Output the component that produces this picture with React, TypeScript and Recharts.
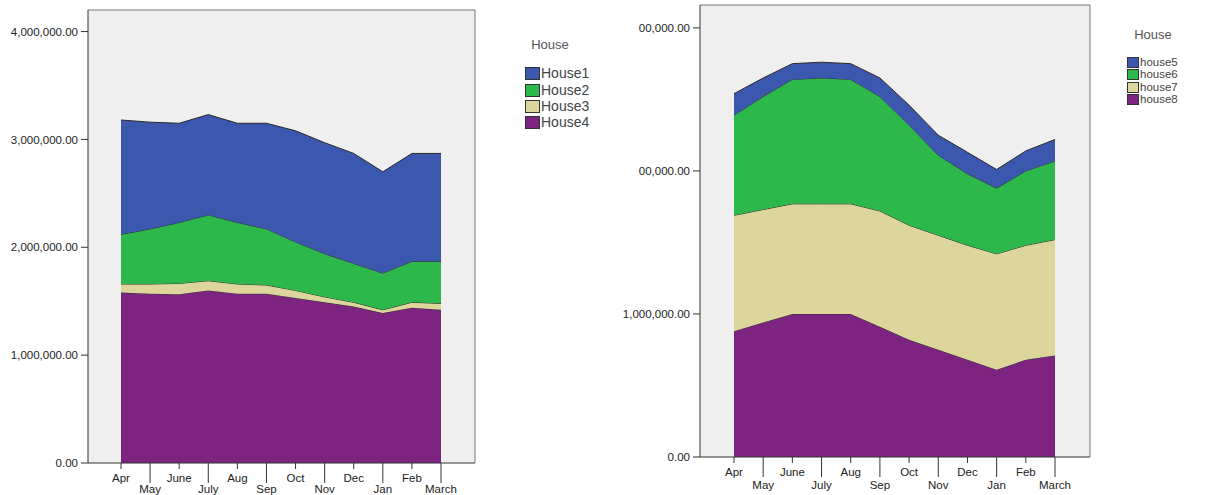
import React from 'react';
import { AreaChart, Area, XAxis, YAxis, CartesianGrid, Legend } from 'recharts';

const months = ['Apr', 'May', 'June', 'July', 'Aug', 'Sep', 'Oct', 'Nov', 'Dec', 'Jan', 'Feb', 'March'];

// Left chart (values)
const house1 = [1060000, 990000, 920000, 930000, 920000, 980000, 1030000, 1030000, 1020000, 940000, 1000000, 1000000];
const house2 = [460000, 510000, 565000, 610000, 570000, 520000, 450000, 400000, 360000, 340000, 380000, 390000];
const house3 = [80000, 90000, 100000, 90000, 90000, 80000, 70000, 50000, 40000, 30000, 50000, 60000];
const house4 = [1580000, 1570000, 1565000, 1600000, 1570000, 1570000, 1530000, 1490000, 1450000, 1390000, 1440000, 1420000];

// Right chart (values)
const house5 = [150000, 130000, 110000, 110000, 110000, 130000, 140000, 140000, 150000, 130000, 140000, 150000];
const house6 = [700000, 790000, 870000, 880000, 870000, 800000, 700000, 560000, 500000, 460000, 520000, 550000];
const house7 = [810000, 790000, 770000, 770000, 770000, 810000, 800000, 800000, 800000, 810000, 800000, 810000];
const house8 = [880000, 940000, 1000000, 1000000, 1000000, 910000, 820000, 750000, 680000, 610000, 680000, 710000];

const leftTicks = [0, 1000000, 2000000, 3000000, 4000000];
const leftTickLabels = ['0.00', '1,000,000.00', '2,000,000.00', '3,000,000.00', '4,000,000.00'];
const rightTicks = [0, 1000000, 2000000, 3000000];
const rightTickLabels = ['0.00', '1,000,000.00', '00,000.00', '00,000.00'];

const leftNames = ['House1', 'House2', 'House3', 'House4'];
const rightNames = ['house5', 'house6', 'house7', 'house8'];
const colors = ['#3b57ae', '#2db84b', '#dcd69c', '#7c2480'];

const leftData = months.map((m, i) => ({
  month: m,
  House1: house1[i],
  House2: house2[i],
  House3: house3[i],
  House4: house4[i],
}));

const rightData = months.map((m, i) => ({
  month: m,
  house5: house5[i],
  house6: house6[i],
  house7: house7[i],
  house8: house8[i],
}));

const FONT = '"Liberation Sans", Arial, sans-serif';

const makeXTick = (lowText: number) => (props: any) => {
  const { x, y, payload } = props;
  const i = payload.index;
  const low = i % 2 === 1;
  return (
    <g>
      <line x1={x} x2={x} y1={y} y2={y + (low ? 20 : 6)} stroke="#333" strokeWidth={1} />
      <text x={x} y={y + (low ? lowText : 19)} textAnchor="middle" fontSize={11.5} fill="#222" fontFamily={FONT}>
        {payload.value}
      </text>
    </g>
  );
};

const LeftXTick = makeXTick(30);
const RightXTick = makeXTick(32);

const makeLegend = (names: string[], opts: any) => () => (
  <div style={{ position: 'relative', width: 110, height: 120, fontFamily: FONT }}>
    <div
      style={{
        position: 'absolute',
        left: opts.titleX - 40,
        width: 80,
        textAlign: 'center',
        top: opts.titleY - 8,
        fontSize: opts.titleSize,
        lineHeight: '16px',
        color: '#555',
      }}
    >
      House
    </div>
    {names.map((n, i) => (
      <div key={n}>
        <div
          style={{
            position: 'absolute',
            left: opts.swX,
            top: opts.rowY[i] - opts.swH / 2,
            width: opts.swW,
            height: opts.swH,
            background: colors[i],
            boxSizing: 'border-box',
            border: '1px solid #333',
          }}
        />
        <div
          style={{
            position: 'absolute',
            left: opts.swX + opts.swW + 1,
            top: opts.rowY[i] - 8,
            lineHeight: '16px',
            fontSize: opts.itemSize,
            color: '#444',
            whiteSpace: 'nowrap',
          }}
        >
          {n}
        </div>
      </div>
    ))}
  </div>
);

const LeftLegend = makeLegend(leftNames, {
  titleX: 30,
  titleY: 15,
  titleSize: 13,
  swX: 5,
  swW: 15,
  swH: 13,
  rowY: [43, 60, 76, 92],
  itemSize: 14,
});

const RightLegend = makeLegend(rightNames, {
  titleX: 33,
  titleY: 15,
  titleSize: 13,
  swX: 7,
  swW: 12,
  swH: 11,
  rowY: [42, 54, 67, 79],
  itemSize: 11.5,
});

export default function App() {
  const axisTick = { fontSize: 11.5, fill: '#222', fontFamily: FONT };
  return (
    <div style={{ position: 'absolute', left: 0, top: 0, width: 1208, height: 495, background: '#fff', overflow: 'hidden' }}>
      <div style={{ position: 'absolute', left: 0, top: 0 }}>
        <AreaChart width={620} height={495} data={leftData} margin={{ top: 9, right: 144, left: 0, bottom: 0 }}>
          <CartesianGrid horizontal={false} vertical={false} fill="#efefef" stroke="none" />
          <XAxis
            dataKey="month"
            height={32}
            interval={0}
            padding={{ left: 33, right: 34 }}
            tickSize={0}
            tickMargin={0}
            tickLine={false}
            axisLine={{ stroke: '#333' }}
            tick={<LeftXTick />}
          />
          <XAxis
            xAxisId="top"
            dataKey="month"
            orientation="top"
            height={1}
            tick={false}
            tickLine={false}
            axisLine={{ stroke: '#777' }}
            padding={{ left: 33, right: 34 }}
          />
          <YAxis
            width={88}
            domain={[0, 4200000]}
            ticks={leftTicks}
            tickFormatter={(v: number) => leftTickLabels[leftTicks.indexOf(v)]}
            tickSize={7}
            tickMargin={3}
            tick={axisTick}
            axisLine={{ stroke: '#333' }}
            tickLine={{ stroke: '#333' }}
            interval={0}
          />
          <YAxis yAxisId="right" orientation="right" width={1} tick={false} tickLine={false} axisLine={{ stroke: '#777' }} domain={[0, 4200000]} />
          <Area type="linear" dataKey="House4" stackId="a" fill={colors[3]} fillOpacity={1} stroke="#2a2a2a" strokeWidth={1} isAnimationActive={false} />
          <Area type="linear" dataKey="House3" stackId="a" fill={colors[2]} fillOpacity={1} stroke="#2a2a2a" strokeWidth={1} isAnimationActive={false} />
          <Area type="linear" dataKey="House2" stackId="a" fill={colors[1]} fillOpacity={1} stroke="#2a2a2a" strokeWidth={1} isAnimationActive={false} />
          <Area type="linear" dataKey="House1" stackId="a" fill={colors[0]} fillOpacity={1} stroke="#2a2a2a" strokeWidth={1} isAnimationActive={false} />
          <Legend
            layout="vertical"
            align="center"
            verticalAlign="middle"
            content={LeftLegend}
            wrapperStyle={{ left: 520, top: 30, width: 110, height: 120 }}
          />
        </AreaChart>
      </div>
      <div style={{ position: 'absolute', left: 600, top: 0 }}>
        <AreaChart width={608} height={495} data={rightData} margin={{ top: 4, right: 117, left: 0, bottom: 0 }}>
          <CartesianGrid horizontal={false} vertical={false} fill="#efefef" stroke="none" />
          <XAxis
            dataKey="month"
            height={38}
            interval={0}
            padding={{ left: 34, right: 35 }}
            tickSize={0}
            tickMargin={0}
            tickLine={false}
            axisLine={{ stroke: '#333' }}
            tick={<RightXTick />}
          />
          <XAxis
            xAxisId="top"
            dataKey="month"
            orientation="top"
            height={1}
            tick={false}
            tickLine={false}
            axisLine={{ stroke: '#777' }}
            padding={{ left: 34, right: 35 }}
          />
          <YAxis
            width={100}
            domain={[0, 3160000]}
            ticks={rightTicks}
            tickFormatter={(v: number) => rightTickLabels[rightTicks.indexOf(v)]}
            tickSize={7}
            tickMargin={3}
            tick={axisTick}
            axisLine={{ stroke: '#333' }}
            tickLine={{ stroke: '#333' }}
            interval={0}
          />
          <YAxis yAxisId="right" orientation="right" width={1} tick={false} tickLine={false} axisLine={{ stroke: '#777' }} domain={[0, 3160000]} />
          <Area type="linear" dataKey="house8" stackId="b" fill={colors[3]} fillOpacity={1} stroke="#2a2a2a" strokeWidth={1} isAnimationActive={false} />
          <Area type="linear" dataKey="house7" stackId="b" fill={colors[2]} fillOpacity={1} stroke="#2a2a2a" strokeWidth={1} isAnimationActive={false} />
          <Area type="linear" dataKey="house6" stackId="b" fill={colors[1]} fillOpacity={1} stroke="#2a2a2a" strokeWidth={1} isAnimationActive={false} />
          <Area type="linear" dataKey="house5" stackId="b" fill={colors[0]} fillOpacity={1} stroke="#2a2a2a" strokeWidth={1} isAnimationActive={false} />
          <Legend
            layout="vertical"
            align="center"
            verticalAlign="middle"
            content={RightLegend}
            wrapperStyle={{ left: 520, top: 20, width: 110, height: 120 }}
          />
        </AreaChart>
      </div>
    </div>
  );
}
